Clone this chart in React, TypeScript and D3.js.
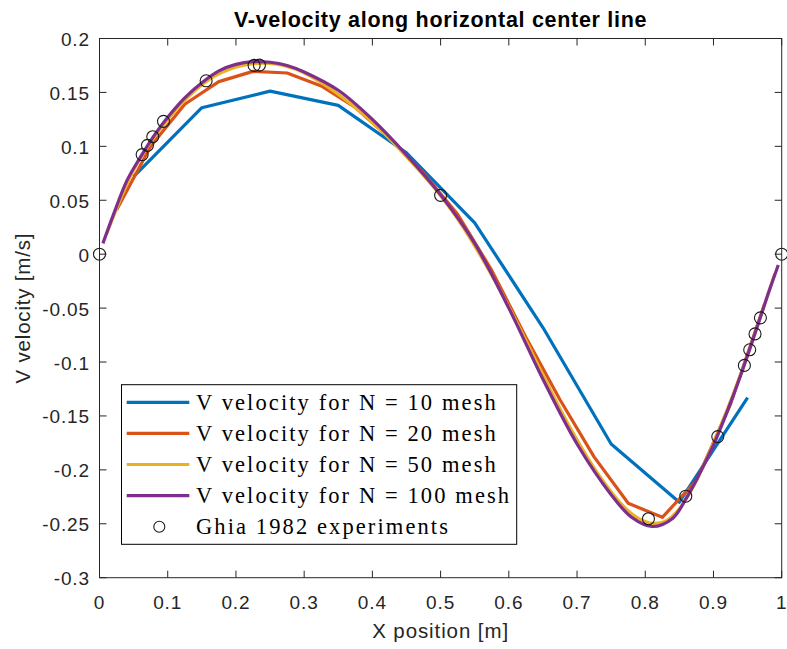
import React from "react";
import * as d3 from "d3";

// ---------- data ----------
const xTicks = [0, 0.1, 0.2, 0.3, 0.4, 0.5, 0.6, 0.7, 0.8, 0.9, 1];
const xTickLabels = ["0", "0.1", "0.2", "0.3", "0.4", "0.5", "0.6", "0.7", "0.8", "0.9", "1"];
const yTicks = [-0.3, -0.25, -0.2, -0.15, -0.1, -0.05, 0, 0.05, 0.1, 0.15, 0.2];
const yTickLabels = ["-0.3", "-0.25", "-0.2", "-0.15", "-0.1", "-0.05", "0", "0.05", "0.1", "0.15", "0.2"];

const n10X = [0.05, 0.15, 0.25, 0.35, 0.45, 0.55, 0.65, 0.75, 0.85, 0.95];
const n10V = [0.072, 0.1358, 0.1512, 0.138, 0.094, 0.029, -0.068, -0.176, -0.23, -0.133];

const n20X = [0.025, 0.075, 0.125, 0.175, 0.225, 0.275, 0.325, 0.375, 0.425, 0.475,
  0.525, 0.575, 0.625, 0.675, 0.725, 0.775, 0.825, 0.875, 0.925, 0.975];
const n20V = [0.041, 0.1, 0.139, 0.16, 0.1695, 0.168, 0.156, 0.136, 0.108, 0.075,
  0.037, -0.015, -0.077, -0.135, -0.188, -0.231, -0.244, -0.21, -0.139, -0.046];

const n50X = [0.01, 0.03, 0.05, 0.07, 0.09, 0.13, 0.17, 0.21, 0.25, 0.29, 0.33, 0.37, 0.41,
  0.45, 0.49, 0.53, 0.57, 0.61, 0.65, 0.69, 0.73, 0.77, 0.79, 0.81, 0.83, 0.85, 0.87, 0.89,
  0.91, 0.93, 0.95, 0.97, 0.99];
const n50V = [0.018, 0.05, 0.078, 0.099, 0.117, 0.146, 0.1655, 0.175, 0.177, 0.171, 0.157,
  0.1385, 0.1165, 0.0905, 0.062, 0.028, -0.014, -0.061, -0.112, -0.161, -0.203, -0.235, -0.245,
  -0.2495, -0.2475, -0.236, -0.216, -0.19, -0.16, -0.128, -0.094, -0.056, -0.018];

const n100X = [0.005, 0.02, 0.04, 0.06, 0.08, 0.1, 0.125, 0.15, 0.175, 0.2, 0.225, 0.25, 0.275,
  0.3, 0.35, 0.4, 0.45, 0.5, 0.55, 0.6, 0.65, 0.7, 0.75, 0.78, 0.81, 0.84, 0.86, 0.88, 0.9,
  0.92, 0.94, 0.96, 0.98, 0.995];
const n100V = [0.01, 0.036, 0.068, 0.09, 0.11, 0.127, 0.145, 0.159, 0.17, 0.176, 0.1785, 0.178,
  0.175, 0.169, 0.152, 0.125, 0.092, 0.055, 0.01, -0.05, -0.116, -0.176, -0.223, -0.244, -0.2525,
  -0.245, -0.2265, -0.203, -0.177, -0.146, -0.112, -0.075, -0.037, -0.01];

const ghiaX = [1.0, 0.9688, 0.9609, 0.9531, 0.9453, 0.9063, 0.8594, 0.8047, 0.5, 0.2344,
  0.2266, 0.1563, 0.0938, 0.0781, 0.0703, 0.0625, 0.0];
const ghiaV = [0, -0.05906, -0.07391, -0.08864, -0.10313, -0.16914, -0.22445, -0.24533,
  0.05454, 0.17527, 0.17507, 0.16077, 0.12317, 0.1089, 0.10091, 0.09233, 0];

const seriesNames = [
  "V velocity for N = 10 mesh",
  "V velocity for N = 20 mesh",
  "V velocity for N = 50 mesh",
  "V velocity for N = 100 mesh",
];
const ghiaName = "Ghia 1982 experiments";
const seriesColors = ["#0072BD", "#D95319", "#EDB120", "#7E2F8E"];

// ---------- layout ----------
const W = 787;
const H = 649;
const L = 99.5, R = 781.7, T = 38.5, B = 577.7;
const sans = "'Liberation Sans', Arial, Helvetica, sans-serif";
const serif = "'Liberation Serif', 'Times New Roman', serif";
const axisColor = "#262626";

export default function App() {
  const x = d3.scaleLinear().domain([0, 1]).range([L, R]);
  const y = d3.scaleLinear().domain([-0.3, 0.2]).range([B, T]);

  const lin = d3.line<[number, number]>().x(d => x(d[0])).y(d => y(d[1]));
  const smooth = d3.line<[number, number]>().x(d => x(d[0])).y(d => y(d[1])).curve(d3.curveCatmullRom.alpha(0.5));

  const zip = (xs: number[], vs: number[]) => xs.map((v, i) => [v, vs[i]] as [number, number]);
  const series = [
    { d: lin(zip(n10X, n10V)), c: seriesColors[0] },
    { d: lin(zip(n20X, n20V)), c: seriesColors[1] },
    { d: smooth(zip(n50X, n50V)), c: seriesColors[2] },
    { d: smooth(zip(n100X, n100V)), c: seriesColors[3] },
  ];
  const tick = 7;

  const legX = 121.5, legY = 384.7, legW = 395.2, legH = 159.6;
  const rowY = [402.3, 433.3, 464.5, 495.6, 526.7];
  const legFont = { fontFamily: serif, fontSize: 22.5, letterSpacing: 2.1 } as const;
  const tickFont = { fontFamily: sans, fontSize: 19, letterSpacing: 0.9 } as const;

  return (
    <svg width={W} height={H} style={{ position: "absolute", left: 0, top: 0, background: "#fff" }}>
      <rect x={0} y={0} width={W} height={H} fill="#fff" />
      <rect x={L} y={T} width={R - L} height={B - T} fill="#fff" />
      {series.map((s, i) => (
        <path key={i} d={s.d || ""} fill="none" stroke={s.c} strokeWidth={3.2} strokeLinejoin="round" strokeLinecap="butt" />
      ))}
      {ghiaX.map((gx, i) => (
        <circle key={i} cx={x(gx)} cy={y(ghiaV[i])} r={6} fill="none" stroke="#1a1a1a" strokeWidth={1.1} />
      ))}
      <rect x={L} y={T} width={R - L} height={B - T} fill="none" stroke={axisColor} strokeWidth={1} />
      {xTicks.map((t, i) => (
        <g key={"xt" + i}>
          <line x1={x(t)} x2={x(t)} y1={B} y2={B - tick} stroke={axisColor} />
          <line x1={x(t)} x2={x(t)} y1={T} y2={T + tick} stroke={axisColor} />
          <text x={x(t)} y={609} textAnchor="middle" {...tickFont} fill={axisColor}>{xTickLabels[i]}</text>
        </g>
      ))}
      {yTicks.map((t, i) => (
        <g key={"yt" + i}>
          <line x1={L} x2={L + tick} y1={y(t)} y2={y(t)} stroke={axisColor} />
          <line x1={R} x2={R - tick} y1={y(t)} y2={y(t)} stroke={axisColor} />
          <text x={90} y={y(t) + 7.5} textAnchor="end" {...tickFont} fill={axisColor}>{yTickLabels[i]}</text>
        </g>
      ))}
      <text x={(L + R) / 2} y={26.5} textAnchor="middle" fontFamily={sans} fontWeight="bold" fontSize={21.5} letterSpacing={0.7} fill="#000">
        V-velocity along horizontal center line
      </text>
      <text x={(L + R) / 2} y={637.5} textAnchor="middle" fontFamily={sans} fontSize={20.5} letterSpacing={0.9} fill={axisColor}>X position [m]</text>
      <text transform={`translate(29.5,${(T + B) / 2}) rotate(-90)`} textAnchor="middle" fontFamily={sans} fontSize={20.5} letterSpacing={0.8} fill={axisColor}>
        V velocity [m/s]
      </text>
      <rect x={legX} y={legY} width={legW} height={legH} fill="#fff" stroke="#000" strokeWidth={1} />
      {seriesNames.map((n, i) => (
        <g key={"lg" + i}>
          <line x1={126.7} x2={189.3} y1={rowY[i]} y2={rowY[i]} stroke={seriesColors[i]} strokeWidth={3.2} />
          <text x={196} y={rowY[i] + 7.7} {...legFont} fill="#000">{n}</text>
        </g>
      ))}
      <circle cx={159.3} cy={rowY[4]} r={5.5} fill="none" stroke="#1a1a1a" strokeWidth={1.1} />
      <text x={196} y={rowY[4] + 7.7} {...legFont} fill="#000">{ghiaName}</text>
    </svg>
  );
}
